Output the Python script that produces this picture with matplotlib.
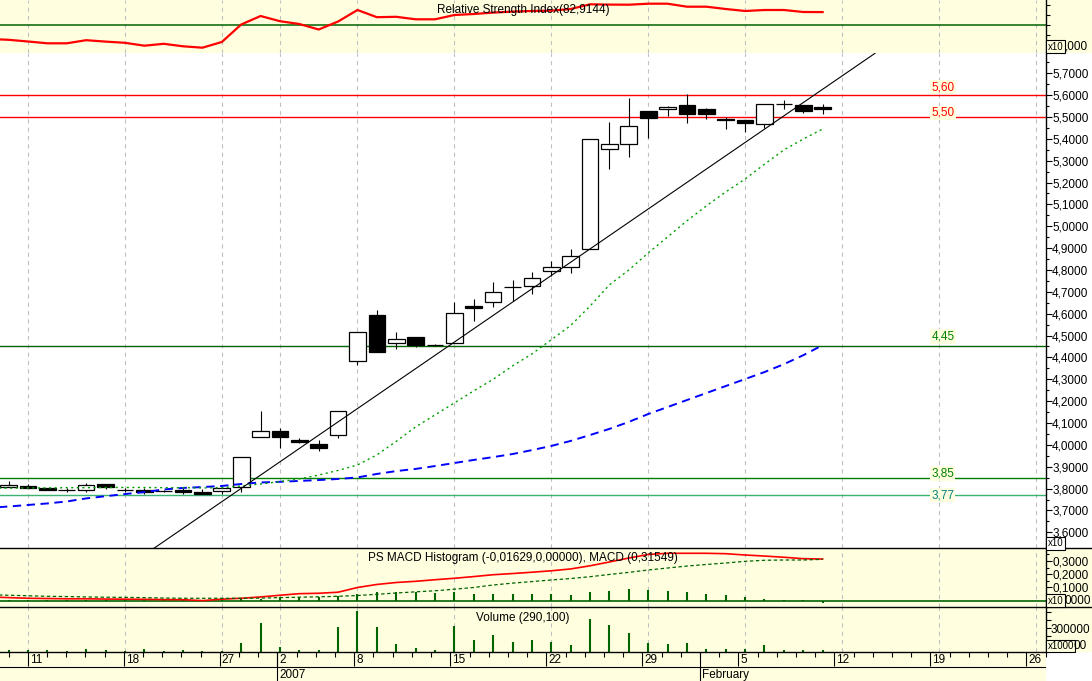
import numpy as np
import pandas as pd
import matplotlib
matplotlib.use('Agg')
import matplotlib.pyplot as plt
from matplotlib.lines import Line2D
from matplotlib.patches import Rectangle
from matplotlib.ticker import MultipleLocator, FixedLocator, FuncFormatter

plt.rcParams['font.family'] = ['Liberation Sans', 'DejaVu Sans']
plt.rcParams['font.size'] = 8.5
plt.rcParams['lines.scale_dashes'] = False

# ---------------- data ----------------
# trading calendar (market shut 25/26 Dec and 1 Jan)
holidays = ['2006-12-25', '2006-12-26', '2007-01-01']
days = pd.bdate_range('2006-12-07', '2007-02-27')
days = days[~days.isin(pd.to_datetime(holidays))]

# daily candles, 8 Dec 2006 .. 9 Feb 2007 (price x10)
opens = [3.806, 3.813, 3.801, 3.793, 3.793, 3.820, 3.793, 3.793, 3.789, 3.792,
         3.784, 3.790, 3.806, 4.035, 4.062, 4.022, 4.004, 4.044, 4.382, 4.594,
         4.465, 4.492, 4.457, 4.465, 4.635, 4.652, 4.724, 4.726, 4.797, 4.812,
         4.895, 5.352, 5.375, 5.527, 5.535, 5.555, 5.535, 5.491, 5.486, 5.466,
         5.558, 5.555, 5.546]
highs = [3.834, 3.819, 3.803, 3.804, 3.827, 3.821, 3.804, 3.801, 3.795, 3.801,
         3.797, 3.806, 3.943, 4.155, 4.076, 4.030, 4.022, 4.155, 4.516, 4.617,
         4.515, 4.495, 4.460, 4.655, 4.667, 4.744, 4.754, 4.791, 4.840, 4.896,
         5.399, 5.476, 5.585, 5.528, 5.552, 5.605, 5.543, 5.500, 5.487, 5.559,
         5.576, 5.556, 5.560]
lows = [3.806, 3.802, 3.792, 3.786, 3.786, 3.797, 3.783, 3.777, 3.785, 3.775,
        3.775, 3.777, 3.786, 4.034, 3.984, 4.007, 3.973, 4.030, 4.365, 4.425,
        4.437, 4.447, 4.452, 4.464, 4.568, 4.629, 4.659, 4.690, 4.772, 4.788,
        4.894, 5.260, 5.318, 5.405, 5.506, 5.471, 5.489, 5.447, 5.429, 5.451,
        5.538, 5.519, 5.512]
closes = [3.816, 3.804, 3.793, 3.793, 3.816, 3.806, 3.793, 3.784, 3.789, 3.784,
          3.777, 3.804, 3.943, 4.062, 4.035, 4.012, 3.984, 4.154, 4.515, 4.426,
          4.483, 4.455, 4.457, 4.601, 4.625, 4.698, 4.724, 4.763, 4.812, 4.864,
          5.398, 5.375, 5.457, 5.497, 5.547, 5.512, 5.512, 5.485, 5.471, 5.558,
          5.558, 5.529, 5.538]
volume = [29000, 29000, 29000, 16000, 41000, 29000, 16000, 41000, 12000, 29000,
          16000, 16000, 112000, 362000, 71000, 29000, 29000, 312000, 516000, 312000,
          104000, 50000, 29000, 329000, 154000, 216000, 129000, 154000, 125000, 91000,
          416000, 341000, 241000, 116000, 104000, 112000, 41000, 41000, 37000, 91000,
          29000, 29000, 29000]
macd_hist = [0.004, 0.006, 0.004, 0.003, 0.003, 0.004, 0.003, 0.003, 0.004, 0.005,
             0.006, 0.008, 0.010, 0.013, 0.023, 0.023, 0.028, 0.033, 0.053, 0.061,
             0.066, 0.066, 0.058, 0.066, 0.053, 0.053, 0.053, 0.048, 0.046, 0.040,
             0.066, 0.074, 0.084, 0.078, 0.074, 0.066, 0.053, 0.040, 0.023, 0.015,
             0.001, 0.003, -0.016]

# indicator lines, 7 Dec 2006 .. 9 Feb 2007
ma_short = [3.802, 3.802, 3.803, 3.803, 3.804, 3.804, 3.805, 3.805, 3.805, 3.804,
            3.804, 3.803, 3.804, 3.812, 3.821, 3.832, 3.844, 3.862, 3.883, 3.908,
            3.954, 4.016, 4.082, 4.137, 4.192, 4.247, 4.300, 4.361, 4.416, 4.481,
            4.546, 4.635, 4.732, 4.800, 4.878, 4.951, 5.025, 5.093, 5.157, 5.216,
            5.284, 5.349, 5.399, 5.445]
ma_long = [3.712, 3.718, 3.725, 3.732, 3.741, 3.755, 3.765, 3.775, 3.784, 3.796,
           3.803, 3.807, 3.812, 3.821, 3.828, 3.831, 3.835, 3.839, 3.844, 3.851,
           3.867, 3.880, 3.890, 3.903, 3.917, 3.931, 3.944, 3.958, 3.976, 3.995,
           4.018, 4.045, 4.073, 4.105, 4.141, 4.173, 4.205, 4.237, 4.269, 4.301,
           4.333, 4.369, 4.410, 4.456]
rsi = [56, 55.2, 53.5, 51.7, 51.7, 54.8, 53.4, 52.2, 49.3, 51.2,
       48.7, 47.3, 53, 70.5, 79, 73.8, 71, 65.5, 73.5, 85,
       77.8, 78.2, 75.7, 75.7, 80, 81, 82.4, 83.4, 84, 84.3,
       86, 90.7, 90.4, 90.3, 91.3, 91.3, 88.3, 88.3, 86, 84,
       85, 85, 83, 82.9144]
macd = [0.027, 0.022, 0.017, 0.015, 0.013, 0.013, 0.011, 0.010, 0.009, 0.007,
        0.006, -0.001, 0.010, 0.017, 0.027, 0.040, 0.052, 0.055, 0.063, 0.099,
        0.122, 0.137, 0.146, 0.158, 0.169, 0.182, 0.196, 0.205, 0.215, 0.226,
        0.240, 0.264, 0.293, 0.323, 0.350, 0.359, 0.359, 0.359, 0.356, 0.346,
        0.338, 0.329, 0.318, 0.31549]
macd_signal = [0.044, 0.040, 0.036, 0.032, 0.030, 0.027, 0.025, 0.024, 0.022, 0.019,
               0.017, 0.017, 0.017, 0.017, 0.018, 0.022, 0.025, 0.028, 0.032, 0.038,
               0.047, 0.057, 0.066, 0.074, 0.086, 0.099, 0.118, 0.132, 0.144, 0.156,
               0.167, 0.181, 0.198, 0.214, 0.232, 0.247, 0.262, 0.274, 0.285, 0.298,
               0.306, 0.308, 0.308, 0.313]

# horizontal levels and the support trend line
levels = [5.60, 5.50, 4.45, 3.85, 3.77]
trend_pos = [8.5, 45.7]
trend_val = [3.527, 5.791]

# ---------------- styles / layout ----------------
W, H = 1092, 681
RIGHT = 1045.7
XMIN, XMAX = 0.555, 54.51
YELLOW = '#ffffe0'
GRID = '#c0c0c0'
DKGREEN = '#006400'
level_colors = ['#ff0000', '#ff0000', DKGREEN, '#008000', '#3cb371']
level_text_colors = ['#ff0000', '#ff0000', '#008000', '#008000', '#008080']
level_lift = [8, 4, 10, 4, 0]   # label offset above line, px
LABEL_X = 49.2

candle_x = np.arange(1, len(opens) + 1)
line_x = np.arange(len(rsi))
all_x = np.arange(len(days))

wk = days.to_period('W')
week_start = np.r_[True, wk[1:] != wk[:-1]] & (all_x > XMIN)
major_x = all_x[week_start]
major_lab = days[week_start].day

mo = days.to_period('M')
month_start = np.r_[False, mo[1:] != mo[:-1]]
month_x = all_x[month_start]
month_lab = [str(d.year) if d.month == 1 else d.strftime('%B') for d in days[month_start]]

fig = plt.figure(figsize=(W / 100, H / 100), dpi=100)


def fy(py):
    return 1 - py / H


def panel(top, bottom, face='none'):
    ax = fig.add_axes([0, fy(bottom), RIGHT / W, (bottom - top) / H], facecolor=face)
    ax.set_xlim(XMIN, XMAX)
    for s in ('top', 'left', 'bottom'):
        ax.spines[s].set_visible(False)
    ax.spines['right'].set_linewidth(1)
    ax.yaxis.tick_right()
    ax.tick_params(axis='x', which='both', bottom=False, labelbottom=False)
    for x in major_x:
        ax.axvline(x, color=GRID, lw=0.8, ls=(0, (3, 3)), zorder=0)
    return ax


# background strips
fig.add_artist(Rectangle((0, fy(53.3)), 1, 53.3 / H, transform=fig.transFigure,
                         fc=YELLOW, ec='none', zorder=-5))
fig.add_artist(Rectangle((0, fy(652.3)), 1, (652.3 - 548.3) / H, transform=fig.transFigure,
                         fc=YELLOW, ec='none', zorder=-5))

# RSI
ax_rsi = panel(0, 53.3)
ax_rsi.set_ylim(41.7, 95)
ax_rsi.axhline(70, color=DKGREEN, lw=1.1, zorder=2)
ax_rsi.plot(line_x, rsi, color='#ff0000', lw=1.6, zorder=3)
ax_rsi.yaxis.set_major_locator(FixedLocator([50, 60, 70, 80, 90]))
ax_rsi.tick_params(axis='y', length=3, width=0.8, labelright=False)

# price
ax = panel(53.3, 548.3, face='white')
ax.set_ylim(3.5268, 5.7912)
for v, lc, tc, dy in zip(levels, level_colors, level_text_colors, level_lift):
    ax.axhline(v, color=lc, lw=1, zorder=2)
    ax.annotate(f'{v:.2f}'.replace('.', ','), (LABEL_X, v), xytext=(0, dy),
                textcoords='offset pixels', ha='center', va='center', color=tc,
                bbox=dict(boxstyle='square,pad=0.1', fc=YELLOW, ec='none'), zorder=7)

o, c = np.array(opens), np.array(closes)
ax.vlines(candle_x, lows, highs, color='black', lw=0.8, zorder=3)
ax.bar(candle_x, np.abs(c - o), bottom=np.minimum(o, c), width=0.86,
       color=np.where(c >= o, 'white', 'black'), edgecolor='black', linewidth=0.9, zorder=4)
ax.plot(line_x, ma_long, color='#0000ff', lw=1.4, dashes=(6, 4), zorder=5)
ax.plot(line_x, ma_short, color='#00a000', lw=1, dashes=(1.5, 2.5), zorder=5)
ax.plot(trend_pos, trend_val, color='black', lw=0.8, zorder=6)

ax.yaxis.set_major_locator(MultipleLocator(0.1))
ax.yaxis.set_minor_locator(MultipleLocator(0.05))
ax.yaxis.set_major_formatter(FuncFormatter(lambda v, p: f'{v:.4f}'.replace('.', ',')))
ax.tick_params(axis='y', which='major', length=4.3, width=0.8, pad=0.3)
ax.tick_params(axis='y', which='minor', length=2.2, width=0.8)

# MACD
ax_m = panel(548.3, 607)
ax_m.set_ylim(-0.0494, 0.397)
ax_m.axhline(0, color=DKGREEN, lw=1.2, zorder=2)
ax_m.vlines(candle_x, 0, macd_hist, color=DKGREEN, lw=1.5, zorder=3)
ax_m.plot(line_x, macd, color='#ff0000', lw=1.2, zorder=4)
ax_m.plot(line_x, macd_signal, color=DKGREEN, lw=0.9, dashes=(2.5, 1.8), zorder=4)
ax_m.yaxis.set_major_locator(FixedLocator([0.1, 0.2, 0.3]))
ax_m.yaxis.set_minor_locator(MultipleLocator(0.05))
ax_m.yaxis.set_major_formatter(FuncFormatter(lambda v, p: f'{v:.4f}'.replace('.', ',')))
ax_m.tick_params(axis='y', which='major', length=4.3, width=0.8, pad=0.3)
ax_m.tick_params(axis='y', which='minor', length=2.2, width=0.8)

# volume
ax_v = panel(607, 652.3)
ax_v.set_ylim(0, 566250)
ax_v.vlines(candle_x, 0, volume, color=DKGREEN, lw=1.5, zorder=3)
ax_v.yaxis.set_major_locator(MultipleLocator(100000))
ax_v.yaxis.set_major_formatter(FuncFormatter(lambda v, p: '300000' if round(v) == 300000 else ''))
ax_v.tick_params(axis='y', length=3.5, width=0.8, pad=0.3)

# date axis
ax_d = fig.add_axes([0, 0, RIGHT / W, (H - 652.3) / H], facecolor=YELLOW)
ax_d.set_xlim(XMIN, XMAX)
ax_d.set_ylim(0, 1)
for s in ('left', 'right', 'bottom'):
    ax_d.spines[s].set_visible(False)
ax_d.spines['top'].set_linewidth(1)
ax_d.xaxis.tick_top()
ax_d.set_xticks(major_x)
ax_d.set_xticks(all_x[all_x > XMIN], minor=True)
ax_d.tick_params(axis='x', which='major', direction='in', length=10.4, width=0.8, labeltop=False)
ax_d.tick_params(axis='x', which='minor', direction='in', length=3.6, width=0.8)
ax_d.set_yticks([])
ax_d.axhline(0.498, color='black', lw=0.8)
for x, lab in zip(major_x, major_lab):
    ax_d.text(x + 0.1, 0.74, str(lab), ha='left', va='center', clip_on=True)
for x, lab in zip(month_x, month_lab):
    ax_d.axvline(x, color='black', lw=0.8)
    ax_d.text(x + 0.1, 0.22, lab, ha='left', va='center', clip_on=True)

# separators across the full width
for y in (548.3, 607):
    fig.add_artist(Line2D([0, 1], [fy(y), fy(y)], transform=fig.transFigure,
                          color='black', lw=1, zorder=5))

# panel titles
CX = RIGHT / 2 / W
fig.text(CX, fy(10), 'Relative Strength Index(82,9144)', ha='center', va='center')
fig.text(CX, fy(558.5), 'PS MACD Histogram (-0,01629,0,00000), MACD (0,31549)',
         ha='center', va='center')
fig.text(CX, fy(617.5), 'Volume (290,100)', ha='center', va='center')

# axis multiplier boxes on the right
def mult_box(y, txt, tail, tail_x, bg):
    fig.text(1047.5 / W, fy(y), txt, fontsize=7, ha='left', va='center', zorder=6,
             bbox=dict(boxstyle='square,pad=0.15', fc=bg, ec='black', lw=0.8))
    if tail:
        fig.text(tail_x / W, fy(y), tail, ha='left', va='center', zorder=6)


mult_box(46.5, 'x10', ',000', 1064.5, YELLOW)
mult_box(543.2, 'x10', '', 0, 'white')
mult_box(600.8, 'x10', '0000', 1064.5, YELLOW)
mult_box(646, 'x1000', '00', 1073.5, YELLOW)

fig.savefig('out.png', dpi=100)
